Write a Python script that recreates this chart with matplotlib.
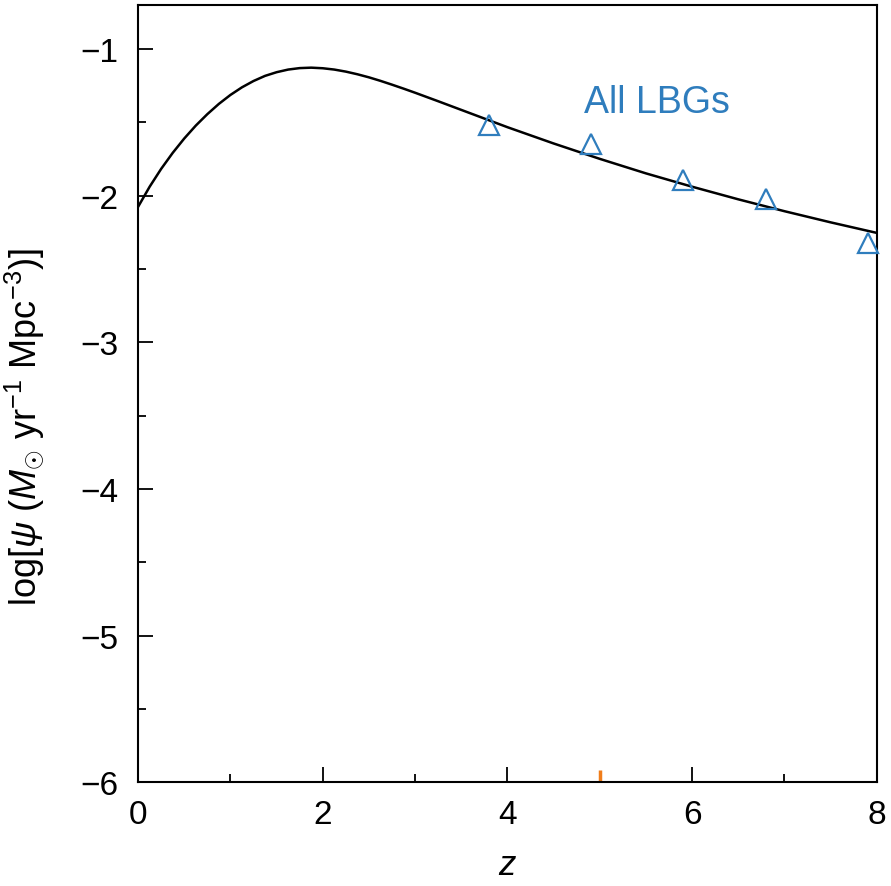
import matplotlib
matplotlib.use("Agg")
import matplotlib.pyplot as plt
from matplotlib.ticker import MultipleLocator

plt.rcParams['font.family'] = ['Liberation Sans', 'DejaVu Sans']
plt.rcParams['mathtext.fontset'] = 'custom'
plt.rcParams['mathtext.it'] = 'Liberation Sans:italic'
plt.rcParams['mathtext.rm'] = 'Liberation Sans'

# Cosmic star-formation-rate density curve (log psi) versus redshift
z_curve = [0.0, 0.125, 0.25, 0.375, 0.5, 0.625, 0.75, 0.875, 1.0, 1.125,
           1.25, 1.375, 1.5, 1.625, 1.75, 1.875, 2.0, 2.125, 2.25, 2.375,
           2.5, 2.625, 2.75, 2.875, 3.0, 3.25, 3.5, 3.75, 4.0, 4.5, 5.0,
           5.5, 6.0, 6.5, 7.0, 7.5, 8.0]
logpsi_curve = [-2.075, -1.938, -1.816, -1.707, -1.609, -1.521, -1.443, -1.373,
                -1.312, -1.260, -1.217, -1.182, -1.157, -1.139, -1.129, -1.126,
                -1.130, -1.139, -1.153, -1.171, -1.192, -1.216, -1.242, -1.269,
                -1.297, -1.355, -1.414, -1.473, -1.532, -1.643, -1.748, -1.847,
                -1.938, -2.024, -2.105, -2.181, -2.253]

# Lyman-break galaxy measurements
z_lbg = [3.8, 4.9, 5.9, 6.8, 7.9]
logpsi_lbg = [-1.52, -1.65, -1.89, -2.02, -2.32]

blue = '#2f7dbd'

fig = plt.figure(figsize=(8.91, 8.87), dpi=100)
ax = fig.add_axes([0.155, 0.117, 0.829, 0.876])

ax.plot(z_curve, logpsi_curve, color='black', lw=1.8, zorder=3)
ax.plot(z_lbg, logpsi_lbg, linestyle='none', marker='^', markersize=15,
        markerfacecolor='none', markeredgecolor=blue, markeredgewidth=1.6,
        clip_on=False, zorder=4)
ax.plot([5.0, 5.0], [-6.0, -5.92], color='#f07d1a', lw=2.5, solid_capstyle='butt', zorder=2)

ax.text(4.83, -1.43, 'All LBGs', color=blue, fontsize=27, ha='left', va='baseline')

ax.set_xlim(0, 8)
ax.set_ylim(-6, -0.7)
ax.xaxis.set_major_locator(MultipleLocator(2))
ax.xaxis.set_minor_locator(MultipleLocator(1))
ax.yaxis.set_major_locator(MultipleLocator(1))
ax.yaxis.set_minor_locator(MultipleLocator(0.5))
ax.tick_params(which='both', direction='in', top=False, right=False, width=1.3)
ax.tick_params(which='major', length=11, labelsize=24)
ax.tick_params(which='minor', length=6)
ax.tick_params(axis='y', which='major', pad=14)
ax.tick_params(axis='x', which='major', pad=12)
for s in ax.spines.values():
    s.set_linewidth(1.5)

ax.set_xlabel('$z$', fontsize=25)
ax.xaxis.set_label_coords(0.5, -0.085)
ax.set_ylabel(r'log[$\psi$ ($M_{\odot}$ yr$^{-1}$ Mpc$^{-3}$)]', fontsize=26)
ax.yaxis.set_label_coords(-0.123, 0.458)

fig.savefig('out.png', dpi=100)
